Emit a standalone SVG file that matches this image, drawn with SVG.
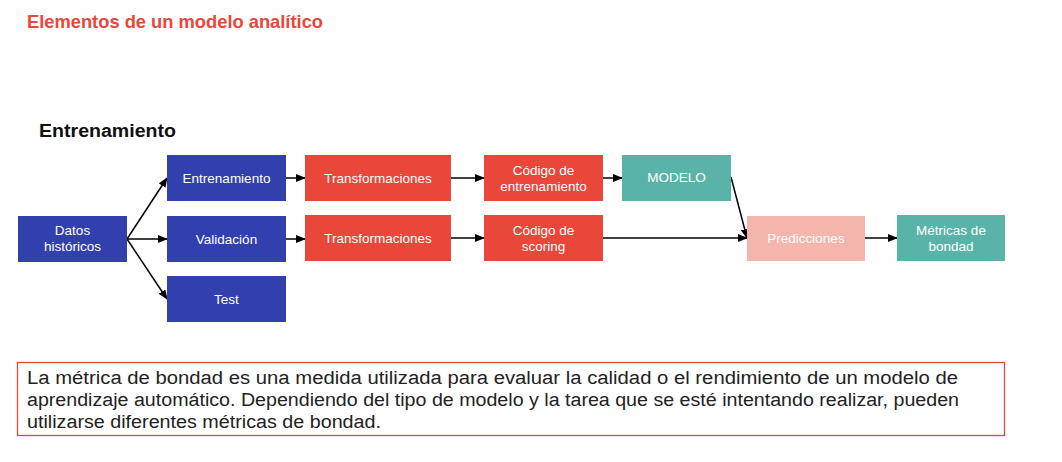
<svg xmlns="http://www.w3.org/2000/svg" width="1062" height="462" viewBox="0 0 1062 462">
<style>
text{font-family:"Liberation Sans",Arial,sans-serif}
.lbl{fill:#ffffff;font-size:13.5px;text-anchor:middle}
.blue{fill:#3240ad}
.red{fill:#e8473a}
.teal{fill:#5ab3a8}
.pink{fill:#f4b5ad}
.conn line,.conn path{stroke:#000;stroke-width:1.5;fill:none;marker-end:url(#ah)}
.para{font-size:18px;fill:#222}
</style>
<defs>
<marker id="ah" markerWidth="10" markerHeight="8" refX="9" refY="4" orient="auto" markerUnits="userSpaceOnUse">
<path d="M0,0 L10,4 L0,8 z" fill="#000"/>
</marker>
</defs>
<rect width="1062" height="462" fill="#ffffff"/>
<text x="27" y="28" font-size="18.5" font-weight="bold" fill="#e8473a" textLength="296" lengthAdjust="spacingAndGlyphs">Elementos de un modelo analítico</text>
<text x="39" y="137" font-size="18" font-weight="bold" fill="#111" textLength="137" lengthAdjust="spacingAndGlyphs">Entrenamiento</text>

<g class="conn">
<line x1="127" y1="239" x2="167" y2="178"/>
<line x1="127" y1="239" x2="167" y2="239"/>
<line x1="127" y1="239" x2="167" y2="299"/>
<line x1="286" y1="178" x2="305" y2="178"/>
<line x1="286" y1="239" x2="305" y2="239"/>
<line x1="451" y1="178" x2="484" y2="178"/>
<line x1="451" y1="238" x2="484" y2="238"/>
<line x1="603" y1="178" x2="622" y2="178"/>
<line x1="731" y1="177" x2="747" y2="238"/>
<line x1="603" y1="238" x2="747" y2="238"/>
<line x1="865" y1="238" x2="897" y2="238"/>
</g>

<g id="datos"><rect class="blue" x="18" y="216" width="109" height="46"/><text class="lbl" x="72.5" y="235">Datos</text><text class="lbl" x="72.5" y="251">históricos</text></g>
<g id="entrenamiento"><rect class="blue" x="167" y="155" width="119" height="46"/><text class="lbl" x="226.5" y="183">Entrenamiento</text></g>
<g id="validacion"><rect class="blue" x="167" y="216" width="119" height="46"/><text class="lbl" x="226.5" y="244">Validación</text></g>
<g id="test"><rect class="blue" x="167" y="276" width="119" height="46"/><text class="lbl" x="226.5" y="304">Test</text></g>
<g id="transf1"><rect class="red" x="305" y="155" width="146" height="46"/><text class="lbl" x="378" y="183">Transformaciones</text></g>
<g id="transf2"><rect class="red" x="305" y="215" width="146" height="46"/><text class="lbl" x="378" y="243">Transformaciones</text></g>
<g id="codigo-entrenamiento"><rect class="red" x="484" y="155" width="119" height="46"/><text class="lbl" x="543.5" y="175">Código de</text><text class="lbl" x="543.5" y="191">entrenamiento</text></g>
<g id="codigo-scoring"><rect class="red" x="484" y="215" width="119" height="46"/><text class="lbl" x="543.5" y="235">Código de</text><text class="lbl" x="543.5" y="251">scoring</text></g>
<g id="modelo"><rect class="teal" x="622" y="155" width="109" height="46"/><text class="lbl" x="676.5" y="182">MODELO</text></g>
<g id="predicciones"><rect class="pink" x="747" y="216" width="118" height="45"/><text class="lbl" x="806" y="243">Predicciones</text></g>
<g id="metricas"><rect class="teal" x="897" y="215" width="108" height="46"/><text class="lbl" x="951" y="235">Métricas de</text><text class="lbl" x="951" y="251">bondad</text></g>

<g id="nota">
<rect x="17.5" y="362.5" width="987" height="73" fill="#ffffff" stroke="#e8473a" stroke-width="1.3"/>
<text class="para" x="27" y="384" textLength="931" lengthAdjust="spacingAndGlyphs">La métrica de bondad es una medida utilizada para evaluar la calidad o el rendimiento de un modelo de</text>
<text class="para" x="27" y="406" textLength="932" lengthAdjust="spacingAndGlyphs">aprendizaje automático. Dependiendo del tipo de modelo y la tarea que se esté intentando realizar, pueden</text>
<text class="para" x="27" y="428" textLength="354" lengthAdjust="spacingAndGlyphs">utilizarse diferentes métricas de bondad.</text>
</g>
</svg>
